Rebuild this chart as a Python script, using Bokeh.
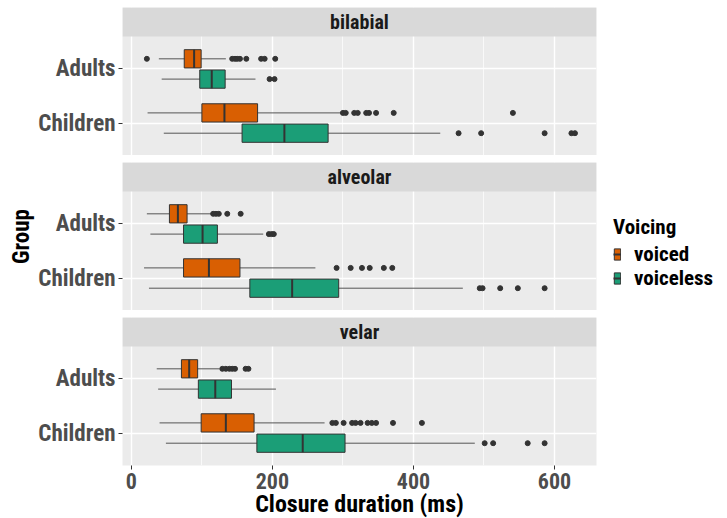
from bokeh.plotting import figure
from bokeh.layouts import column
from bokeh.models import Range1d, FixedTicker, ColumnDataSource, Legend, LegendItem
from bokeh.embed import file_html
from bokeh.resources import INLINE
from bokeh.core.properties import value

# ---------------- data ----------------
places = ["bilabial", "alveolar", "velar"]
groups = ["Adults", "Children"]
voicings = ["voiced", "voiceless"]
x_ticks = [0, 200, 400, 600]
x_minor_ticks = [100, 300, 500]

# one entry per (place, group, voicing), nested in that order
whisker_low = [39, 43, 23, 46, 22, 27, 18, 25, 36, 38, 40, 49]
q1 = [75, 97, 100, 157, 54, 74, 74, 168, 71, 95, 99, 178]
median = [89, 114, 132, 217, 66, 101, 110, 228, 82, 119, 134, 243]
q3 = [99, 133, 179, 279, 79, 122, 154, 294, 94, 142, 174, 303]
whisker_high = [134, 176, 299, 438, 114, 187, 261, 470, 125, 205, 274, 487]
outliers = [
    [22, 143, 147, 150, 154, 163, 184, 189, 204],
    [196, 203],
    [300, 304, 316, 321, 333, 337, 347, 372, 541],
    [464, 496, 586, 624, 629],
    [116, 120, 124, 136, 155],
    [195, 199, 202],
    [291, 311, 327, 338, 358, 370],
    [494, 498, 523, 548, 586],
    [129, 134, 139, 143, 147, 162, 166],
    [],
    [285, 290, 301, 313, 318, 325, 335, 341, 347, 371, 412],
    [501, 513, 562, 586],
]

# ---------------- style / layout ----------------
FONT = "Liberation Sans Narrow, Roboto Condensed, Roboto"
COLORS = ["#D95F02", "#1B9E77"]
STRIP_PX, BODY_PX, FRAME_W = 29, 119, 474
px_per_unit = BODY_PX / 2.2
y_bottom = 2.6
y_top = 0.4 - STRIP_PX / px_per_unit
dodge = 0.1875
box_h = 0.3375

all_vals = whisker_low + whisker_high + [v for o in outliers for v in o]
vmin, vmax = min(all_vals), max(all_vals)
pad = 0.05 * (vmax - vmin)
x_range = Range1d(vmin - pad, vmax + pad)

figs = []
for pi, place in enumerate(places):
    first = pi == 0
    last = pi == len(places) - 1
    middle = pi == 1
    p = figure(frame_width=FRAME_W, frame_height=STRIP_PX + BODY_PX,
               x_range=x_range, y_range=Range1d(y_bottom, y_top),
               output_backend="svg", toolbar_location=None,
               min_border_left=122, min_border_right=131,
               min_border_top=7 if first else 0, min_border_bottom=0,
               background_fill_color="#EBEBEB", border_fill_color="white",
               outline_line_color=None)

    # grids
    xt = FixedTicker(ticks=x_ticks, minor_ticks=x_minor_ticks)
    p.xaxis.ticker = xt
    p.xgrid.ticker = xt
    p.xgrid.grid_line_color = "white"
    p.xgrid.grid_line_width = 1.4
    p.xgrid.minor_grid_line_color = "white"
    p.xgrid.minor_grid_line_width = 0.7
    yt = FixedTicker(ticks=[1, 2], minor_ticks=[])
    p.yaxis.ticker = yt
    p.ygrid.ticker = yt
    p.ygrid.grid_line_color = "white"
    p.ygrid.grid_line_width = 1.4

    # y axis
    p.yaxis.major_label_overrides = {1: groups[0], 2: groups[1]}
    p.yaxis.major_label_text_font = FONT
    p.yaxis.major_label_text_font_style = "bold"
    p.yaxis.major_label_text_font_size = "23px"
    p.yaxis.major_label_text_color = "#4D4D4D"
    p.yaxis.axis_line_color = None
    p.yaxis.major_tick_in = 0
    p.yaxis.major_tick_out = 4
    p.yaxis.major_tick_line_color = "#333333"
    p.yaxis.minor_tick_line_color = None
    p.yaxis.major_label_standoff = 3
    if middle:
        p.yaxis.axis_label = "Group"
        p.yaxis.axis_label_text_font = FONT
        p.yaxis.axis_label_text_font_style = "bold"
        p.yaxis.axis_label_text_font_size = "23px"
        p.yaxis.axis_label_text_color = "black"
        p.yaxis.axis_label_standoff = 0

    # x axis
    if last:
        p.xaxis.axis_label = "Closure duration (ms)"
        p.xaxis.axis_label_text_font = FONT
        p.xaxis.axis_label_text_font_style = "bold"
        p.xaxis.axis_label_text_font_size = "24px"
        p.xaxis.axis_label_text_color = "black"
        p.xaxis.axis_label_standoff = -2
        p.xaxis.major_label_text_font = FONT
        p.xaxis.major_label_text_font_style = "bold"
        p.xaxis.major_label_text_font_size = "22px"
        p.xaxis.major_label_text_color = "#4D4D4D"
        p.xaxis.axis_line_color = None
        p.xaxis.major_tick_in = 0
        p.xaxis.major_tick_out = 4
        p.xaxis.major_tick_line_color = "#333333"
        p.xaxis.minor_tick_in = 0
        p.xaxis.minor_tick_out = 0
        p.xaxis.minor_tick_line_color = None
        p.xaxis.major_label_standoff = 3
    else:
        p.xaxis.visible = False

    # strip
    p.quad(left=[x_range.start], right=[x_range.end], bottom=[0.4], top=[y_top],
           fill_color="#D9D9D9", line_color=None)
    p.text(x=[(x_range.start + x_range.end) / 2], y=[(0.4 + y_top) / 2], text=[place],
           text_align="center", text_baseline="middle",
           text_font=value(FONT), text_font_style="bold",
           text_font_size="20px", text_color="#1A1A1A")

    legend_sets = []
    for vi, voicing in enumerate(voicings):
        ys, lo, b1, md, b3, hi, ox, oy = [], [], [], [], [], [], [], []
        for gi, group in enumerate(groups):
            idx = pi * 4 + gi * 2 + vi
            y = gi + 1 + (vi - 0.5) * 2 * dodge
            ys.append(y)
            lo.append(whisker_low[idx]); b1.append(q1[idx]); md.append(median[idx])
            b3.append(q3[idx]); hi.append(whisker_high[idx])
            for o in outliers[idx]:
                ox.append(o); oy.append(y)
        src = ColumnDataSource(dict(y=ys, lo=lo, q1=b1, med=md, q3=b3, hi=hi,
                                    ya=[y - box_h / 2 for y in ys],
                                    yb=[y + box_h / 2 for y in ys]))
        p.segment(x0="lo", x1="hi", y0="y", y1="y", source=src,
                  line_color="#555555", line_width=1)
        rb = p.hbar(y="y", left="q1", right="q3", height=box_h, source=src,
                    fill_color=COLORS[vi], line_color="#333333", line_width=1)
        rm = p.segment(x0="med", x1="med", y0="ya", y1="yb", source=src,
                       line_color="#333333", line_width=2)
        p.scatter(x=ox, y=oy, size=5, color="#333333")
        legend_sets.append([rb, rm])

    if middle:
        legend = Legend(items=[LegendItem(label=v, renderers=legend_sets[i])
                               for i, v in enumerate(voicings)],
                        title="Voicing", location=(17, 20), margin=0, padding=0,
                        border_line_color=None, background_fill_alpha=0,
                        glyph_width=8, glyph_height=14, label_height=16,
                        spacing=0, label_standoff=13, title_standoff=3)
        legend.title_text_font = FONT
        legend.title_text_font_style = "bold"
        legend.title_text_font_size = "21px"
        legend.title_text_color = "black"
        legend.label_text_font = FONT
        legend.label_text_font_style = "bold"
        legend.label_text_font_size = "21px"
        legend.label_text_color = "black"
        p.add_layout(legend, "right")

    figs.append(p)

layout = column(*figs, spacing=7)
open("out.html", "w").write(file_html(layout, INLINE))
